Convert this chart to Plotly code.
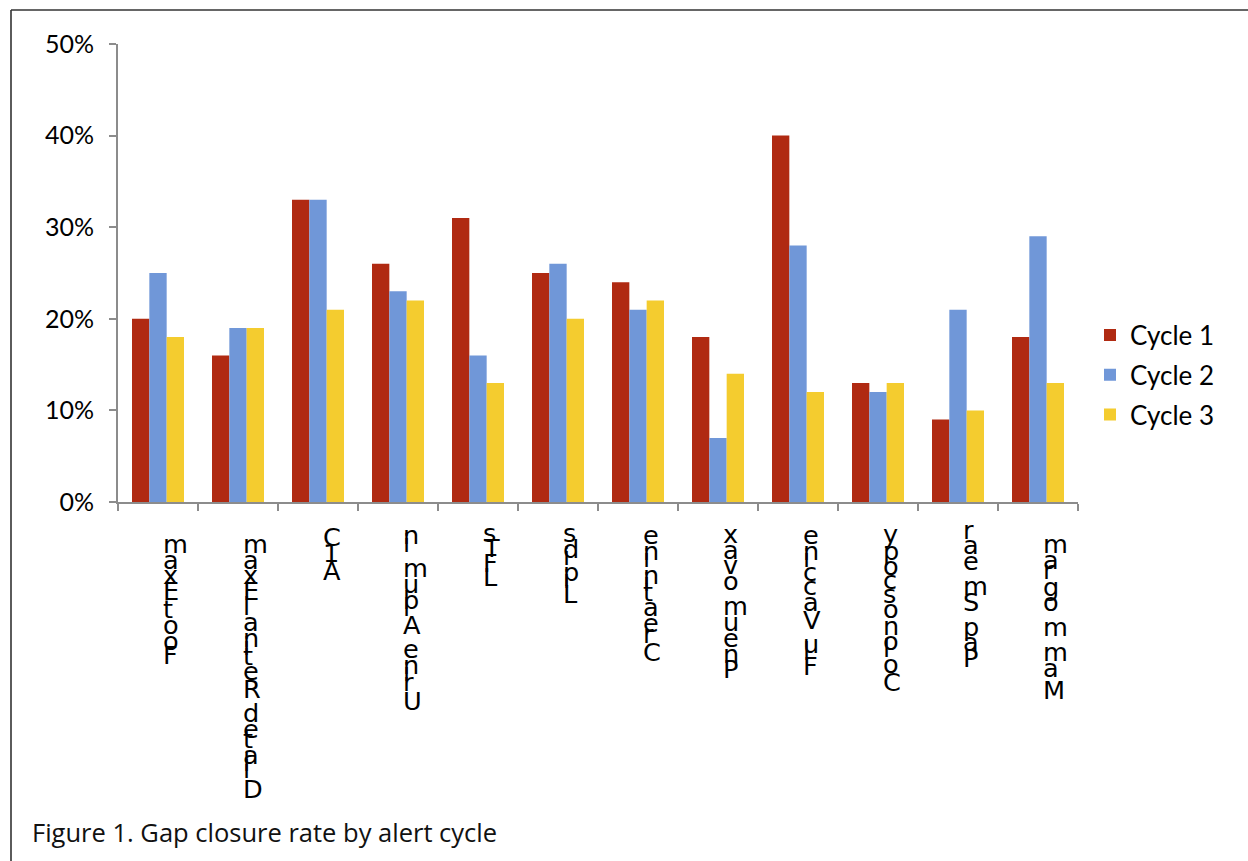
import plotly.graph_objects as go

# Alert categories and gap-closure rates per alert cycle
categories = ["Foot Exam", "Dilated Retinal Exam", "A1C", "Urine Albumin", "LFTs",
              "Lipids", "Creatinine", "Pneumovax", "Flu Vaccine", "Colonoscopy",
              "Pap Smear", "Mammogram"]
cycle1 = [0.20, 0.16, 0.33, 0.26, 0.31, 0.25, 0.24, 0.18, 0.40, 0.13, 0.09, 0.18]
cycle2 = [0.25, 0.19, 0.33, 0.23, 0.16, 0.26, 0.21, 0.07, 0.28, 0.12, 0.21, 0.29]
cycle3 = [0.18, 0.19, 0.21, 0.22, 0.13, 0.20, 0.22, 0.14, 0.12, 0.13, 0.10, 0.13]
series_names = ["Cycle 1", "Cycle 2", "Cycle 3"]
caption = "Figure 1. Gap closure rate by alert cycle"

colors = ["#B02A12", "#7097D8", "#F4CC2F"]

# page geometry (pixels)
W, H = 1248, 861
PL, PR, PT, PB = 118, 1078, 44, 502
pw, ph = PR - PL, PB - PT

fig = go.Figure()
for name, vals, col in zip(series_names, [cycle1, cycle2, cycle3], colors):
    fig.add_trace(go.Bar(x=categories, y=vals, name=name, marker_color=col,
                         marker_line_width=0, legendgroup=name))

# Category labels: glyphs stacked upright along a vertical baseline,
# advancing by each glyph's width (DejaVu Sans advance widths, em units)
ADV = {" ": .318, "A": .684, "C": .698, "D": .770, "E": .632, "F": .575, "L": .557,
       "M": .863, "P": .603, "R": .695, "S": .635, "T": .611, "U": .732, "V": .684,
       "a": .613, "b": .635, "c": .550, "d": .635, "e": .615, "g": .635, "i": .278,
       "l": .278, "m": .974, "n": .634, "o": .612, "p": .635, "r": .411, "s": .521,
       "t": .392, "u": .634, "v": .592, "x": .592, "y": .592, "1": .636}
FS = 25.6
ASC = 0.928
TOP_OFF = 25  # label end sits this far below the axis line

annotations = []
for cat in categories:
    widths = [ADV.get(ch, 0.6) * FS for ch in cat]
    total = sum(widths)
    cum = 0.0
    for ch, w in zip(cat, widths):
        base = TOP_OFF + total - cum  # baseline below axis line
        cum += w
        if ch == " ":
            continue
        annotations.append(dict(
            x=cat, xref="x", y=0, yref="paper", text=ch, showarrow=False,
            xanchor="left", yanchor="top", xshift=3,
            yshift=-(base - ASC * FS - 1),
            font=dict(family="DejaVu Sans", size=FS, color="#000000")))

annotations.append(dict(
    x=(30 - PL) / pw, xref="paper", y=(PB - 832) / ph, yref="paper",
    text=caption, showarrow=False, xanchor="left", yanchor="middle",
    font=dict(family="Open Sans", size=25.5, color="#111111")))

# frame lines along the top and left of the page
shapes = [
    dict(type="line", xref="paper", yref="paper",
         x0=(11 - PL) / pw, x1=(W - PL) / pw, y0=(PB - 10) / ph, y1=(PB - 10) / ph,
         line=dict(color="#333333", width=1.6)),
    dict(type="line", xref="paper", yref="paper",
         x0=(11 - PL) / pw, x1=(11 - PL) / pw, y0=(PB - 10) / ph, y1=(PB - H) / ph,
         line=dict(color="#333333", width=1.6)),
]

fig.update_layout(
    width=W, height=H,
    margin=dict(l=PL, r=W - PR, t=PT, b=H - PB, autoexpand=False),
    paper_bgcolor="white", plot_bgcolor="white",
    barmode="group", bargap=0.35, bargroupgap=0,
    showlegend=True,
    legend=dict(x=(1090 - PL) / pw, y=(PB - 375) / ph, xanchor="left", yanchor="middle",
                font=dict(family="Lato", size=26, color="#000000"),
                tracegroupgap=3, bgcolor="rgba(0,0,0,0)"),
    annotations=annotations,
    shapes=shapes,
    xaxis=dict(showticklabels=False, ticks="outside", tickson="boundaries",
               ticklen=7, tickcolor="#8C8C8C", tickwidth=1.5,
               showline=True, linecolor="#8C8C8C", linewidth=2,
               showgrid=False, zeroline=False),
    yaxis=dict(range=[0, 0.5], dtick=0.1, tickformat=".0%",
               ticks="outside", ticklen=7, tickcolor="#8C8C8C", tickwidth=1.5,
               showline=True, linecolor="#8C8C8C", linewidth=2,
               showgrid=False, zeroline=False, ticklabelstandoff=10,
               tickfont=dict(family="Lato", size=25, color="#000000")),
)

fig.write_html("out.html")
